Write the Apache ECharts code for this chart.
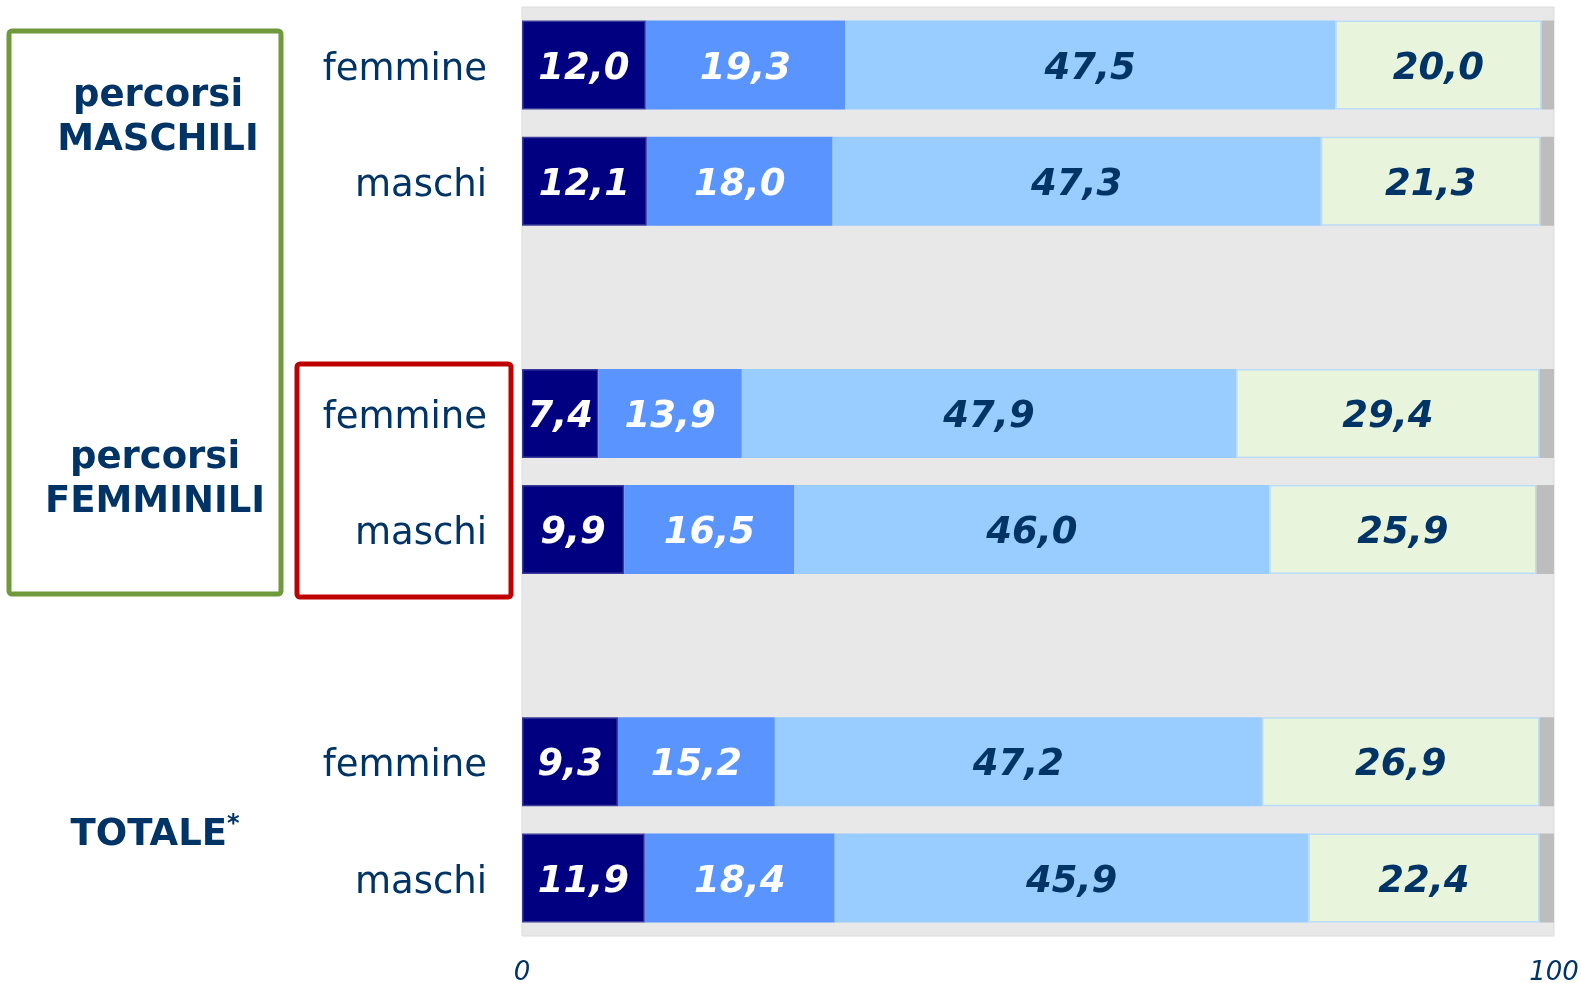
<!DOCTYPE html>
<html>
<head>
<meta charset="utf-8">
<script src="https://cdn.jsdelivr.net/npm/echarts@6/dist/echarts.min.js"></script>
<style>
html,body{margin:0;padding:0;background:#fff;}
#chart{width:1581px;height:983px;}
</style>
</head>
<body>
<div id="chart"></div>
<script>
// Categories (top to bottom); empty entries are spacer rows between groups
const categories = ['M|femmine', 'M|maschi', 'gap1', 'F|femmine', 'F|maschi', 'gap2', 'T|femmine', 'T|maschi'];
const seg1 = [12.0, 12.1, null, 7.4, 9.9, null, 9.3, 11.9];
const seg2 = [19.3, 18.0, null, 13.9, 16.5, null, 15.2, 18.4];
const seg3 = [47.5, 47.3, null, 47.9, 46.0, null, 47.2, 45.9];
const seg4 = [20.0, 21.3, null, 29.4, 25.9, null, 26.9, 22.4];
const seg5 = [1.2, 1.3, null, 1.4, 1.7, null, 1.4, 1.4];
const xTicks = [0, 100];
const groupLabels = [['percorsi', 'MASCHILI'], ['percorsi', 'FEMMINILI'], ['TOTALE']];

const navyText = '#003366';
const font = '"DejaVu Sans", Verdana, sans-serif';

function fmt(p) {
  return p.value == null ? '' : p.value.toFixed(1).replace('.', ',');
}
function mkSeries(data, color, labelColor, border) {
  return {
    type: 'bar', stack: 'a', data: data, barWidth: 89,
    itemStyle: { color: color, borderColor: border || color, borderWidth: border ? 1.5 : 0 },
    label: labelColor ? {
      show: true, position: 'inside', formatter: fmt, color: labelColor, offset: [0, 4],
      fontFamily: font, fontWeight: 'bold', fontStyle: 'italic', fontSize: 37
    } : { show: false },
    emphasis: { disabled: true },
    animation: false
  };
}

const chart = echarts.init(document.getElementById('chart'));
chart.setOption({
  animation: false,
  grid: {
    left: 522, right: 27, top: 7, bottom: 47, outerBoundsMode: 'none', containLabel: false,
    show: true, backgroundColor: '#E8E8E8', borderColor: '#DCDCDC', borderWidth: 1
  },
  xAxis: {
    type: 'value', min: xTicks[0], max: xTicks[1], interval: xTicks[1] - xTicks[0],
    axisLine: { show: false }, axisTick: { show: false }, splitLine: { show: false },
    axisLabel: {
      margin: 24, color: navyText, fontFamily: font, fontStyle: 'italic', fontSize: 26,
      showMinLabel: true, showMaxLabel: true
    }
  },
  yAxis: {
    type: 'category', data: categories, inverse: true,
    axisLine: { show: false }, axisTick: { show: false }, splitLine: { show: false },
    axisLabel: {
      margin: 35,
      formatter: function (v) { return v.indexOf('|') >= 0 ? '{a|' + v.split('|')[1] + '}' : ''; },
      rich: {
        a: { color: navyText, fontFamily: font, fontSize: 37, lineHeight: 44, padding: [10, 0, 0, 0] }
      }
    }
  },
  series: [
    mkSeries(seg1, '#000080', '#FFFFFF', '#3a3a9a'),
    mkSeries(seg2, '#5994FF', '#FFFFFF'),
    mkSeries(seg3, '#99CCFF', navyText),
    mkSeries(seg4, '#E8F5DC', navyText, '#BBDCF8'),
    mkSeries(seg5, '#BDBDBD', null)
  ],
  graphic: [
    { type: 'rect', shape: { x: 9, y: 31, width: 272, height: 563, r: 3 },
      style: { fill: 'none', stroke: '#6F9A3C', lineWidth: 5 }, z: 10 },
    { type: 'rect', shape: { x: 297, y: 364, width: 214, height: 233, r: 3 },
      style: { fill: 'none', stroke: '#C00000', lineWidth: 5 }, z: 10 },
    { type: 'text', x: 158, y: 118, z: 10,
      style: { text: groupLabels[0].join('\n'), align: 'center', verticalAlign: 'middle',
        fill: navyText, font: 'bold 37px ' + font, lineHeight: 44 } },
    { type: 'text', x: 155, y: 480, z: 10,
      style: { text: groupLabels[1].join('\n'), align: 'center', verticalAlign: 'middle',
        fill: navyText, font: 'bold 37px ' + font, lineHeight: 44 } },
    { type: 'text', x: 155, y: 835, z: 10,
      style: { text: '{a|' + groupLabels[2][0] + '}{b|*}', align: 'center', verticalAlign: 'middle',
        rich: {
          a: { fill: navyText, fontFamily: font, fontWeight: 'bold', fontSize: 37, lineHeight: 44 },
          b: { fill: navyText, fontFamily: font, fontWeight: 'bold', fontSize: 24, verticalAlign: 'top', lineHeight: 44, padding: [0, 0, 16, 0] }
        } } }
  ]
});
</script>
</body>
</html>
